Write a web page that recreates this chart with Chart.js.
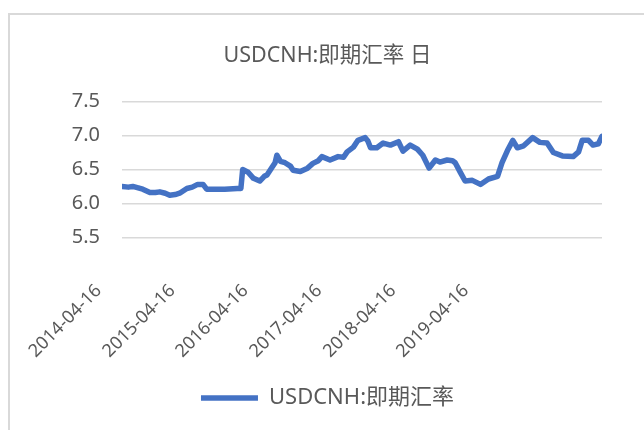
<!DOCTYPE html>
<html>
<head>
<meta charset="utf-8">
<script src="https://cdn.jsdelivr.net/npm/chart.js@4.4.1/dist/chart.umd.min.js"></script>
<style>
  html, body { margin: 0; padding: 0; background: #ffffff; overflow: hidden; }
  #frame { position: absolute; left: 8px; top: 13px; width: 800px; height: 600px;
           border-top: 2px solid #d9d9d9; border-left: 2px solid #d9d9d9; }
  #wrap { position: absolute; left: 0; top: 0; width: 644px; height: 430px; }
</style>
</head>
<body>
<div id="frame"></div>
<div id="wrap"><canvas id="c" width="644" height="430"></canvas></div>
<script>
// time points (decimal years) and USDCNH spot values
const timePoints = [
  2014.29, 2014.36, 2014.41, 2014.47, 2014.52, 2014.60, 2014.66, 2014.71, 2014.77, 2014.82,
  2014.88, 2014.93, 2015.01, 2015.07, 2015.13, 2015.19, 2015.23, 2015.32, 2015.43, 2015.57,
  2015.61, 2015.63, 2015.69, 2015.75, 2015.82, 2015.87, 2015.90, 2015.96, 2015.99, 2016.01,
  2016.05, 2016.10, 2016.16, 2016.19, 2016.27, 2016.35, 2016.41, 2016.47, 2016.51, 2016.60,
  2016.69, 2016.75, 2016.79, 2016.86, 2016.91, 2016.99, 2017.02, 2017.05, 2017.12, 2017.19,
  2017.27, 2017.36, 2017.41, 2017.49, 2017.57, 2017.63, 2017.70, 2017.77, 2017.82, 2017.90,
  2017.96, 2017.99, 2018.05, 2018.10, 2018.18, 2018.27, 2018.36, 2018.46, 2018.51, 2018.57,
  2018.63, 2018.68, 2018.75, 2018.85, 2018.93, 2019.01, 2019.08, 2019.18, 2019.30, 2019.36,
  2019.40, 2019.47, 2019.52, 2019.58, 2019.62
];
const spotRates = [
  6.25, 6.24, 6.25, 6.23, 6.21, 6.16, 6.16, 6.17, 6.15, 6.12,
  6.13, 6.15, 6.22, 6.24, 6.28, 6.28, 6.21, 6.21, 6.21, 6.22,
  6.22, 6.50, 6.46, 6.37, 6.33, 6.40, 6.42, 6.54, 6.60, 6.71,
  6.62, 6.60, 6.55, 6.49, 6.47, 6.52, 6.59, 6.63, 6.69, 6.64,
  6.69, 6.68, 6.76, 6.83, 6.93, 6.97, 6.92, 6.82, 6.82, 6.89,
  6.86, 6.91, 6.77, 6.86, 6.80, 6.71, 6.52, 6.64, 6.61, 6.64,
  6.63, 6.60, 6.45, 6.33, 6.34, 6.28, 6.36, 6.40, 6.60, 6.78,
  6.93, 6.82, 6.85, 6.97, 6.90, 6.89, 6.75, 6.70, 6.69, 6.76,
  6.93, 6.93, 6.86, 6.88, 6.99
];
const tickLabels = ['2014-04-16', '2015-04-16', '2016-04-16', '2017-04-16', '2018-04-16', '2019-04-16'];
const tickValues = [2014.03, 2014.85, 2015.66, 2016.48, 2017.30, 2018.11];
const yTicks = [5.5, 6.0, 6.5, 7.0, 7.5];
const seriesName = 'USDCNH:即期汇率';
const chartTitle = 'USDCNH:即期汇率 日';

const FONT = '"Noto Sans", "Noto Sans CJK SC", sans-serif';
const TEXT = '#595959';

new Chart(document.getElementById('c'), {
  type: 'line',
  data: {
    datasets: [{
      label: seriesName,
      data: timePoints.map((t, i) => ({ x: t, y: spotRates[i] })),
      borderColor: '#4472C4',
      backgroundColor: '#4472C4',
      borderWidth: 5.5,
      borderCapStyle: 'round',
      borderJoinStyle: 'round',
      pointRadius: 0,
      pointHoverRadius: 0,
      tension: 0,
      fill: false
    }]
  },
  options: {
    responsive: false,
    animation: false,
    devicePixelRatio: 1,
    layout: { padding: { top: 0, left: 53, right: 42, bottom: 11 } },
    plugins: {
      tooltip: { enabled: false },
      title: {
        display: true,
        text: chartTitle,
        color: TEXT,
        font: { family: FONT, size: 21.5, weight: 'normal', lineHeight: 1.2 },
        padding: { top: 43, bottom: 32.9 }
      },
      legend: {
        display: true,
        position: 'bottom',
        labels: {
          color: TEXT,
          font: { family: FONT, size: 22 },
          usePointStyle: true,
          pointStyle: 'line',
          pointStyleWidth: 57,
          padding: 10
        }
      }
    },
    scales: {
      x: {
        type: 'linear',
        min: 2014.29,
        max: 2019.62,
        grid: { display: false, drawTicks: false },
        border: { display: false },
        afterBuildTicks: (s) => { s.ticks = tickValues.map(v => ({ value: v })); },
        afterFit: (s) => { s.height = 139.7; s.paddingLeft = 0; s.paddingRight = 0; },
        ticks: {
          autoSkip: false,
          minRotation: 45,
          maxRotation: 45,
          padding: 43,
          color: TEXT,
          font: { family: FONT, size: 18 },
          callback: (v, i) => tickLabels[i]
        }
      },
      y: {
        min: 5.5,
        max: 7.5,
        afterBuildTicks: (s) => { s.ticks = yTicks.map(v => ({ value: v })); },
        afterFit: (s) => { s.width = 69; },
        grid: { color: '#d9d9d9', lineWidth: 1.5, drawTicks: false },
        border: { display: false },
        ticks: {
          padding: 22,
          color: TEXT,
          font: { family: FONT, size: 20 },
          callback: (v) => Number(v).toFixed(1)
        }
      }
    }
  }
});
</script>
</body>
</html>
